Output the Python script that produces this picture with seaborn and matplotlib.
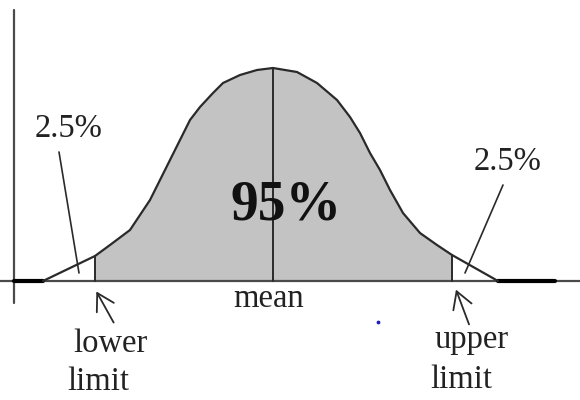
import numpy as np
import matplotlib
matplotlib.use("Agg")
import matplotlib.pyplot as plt
import seaborn as sns

# curve: x position, height above the baseline
curve_x = [43, 95, 110, 130, 150, 160, 170, 180, 190, 200, 213, 223, 240, 257,
           273, 297, 317, 337, 350, 360, 370, 380, 390, 403, 420, 437, 452, 498]
curve_h = [0, 25, 36, 51, 81, 101, 121, 141, 161, 174, 188, 198, 206, 211,
           213, 209, 198, 181, 164, 148, 128, 111, 91, 68, 48, 36, 26, 0]

lower_limit = 95
upper_limit = 452
mean_x = 273
tail_left = [14, 43]
tail_right = [498, 555]

sns.set_theme(style="white")
plt.rcParams["font.family"] = ["Liberation Serif", "DejaVu Serif"]

fig = plt.figure(figsize=(5.8, 4.0), dpi=100)
ax = fig.add_axes([0, 0, 1, 1])
ax.set_xlim(0, 580)
ax.set_ylim(-119, 281)
ax.axis("off")

cx = np.array(curve_x)
ch = np.array(curve_h)
inside = (cx >= lower_limit) & (cx <= upper_limit)
ax.fill_between(cx[inside], 0, ch[inside], color="#c3c3c3", lw=0, zorder=1)

# axes of the sketch
ax.axhline(0, color="#4a4a4a", lw=1.6, zorder=2)
ax.plot([14, 14], [-22, 271], color="#4a4a4a", lw=1.6, zorder=2)
ax.plot(tail_left, [0, 0], color="black", lw=3, zorder=3)
ax.plot(tail_right, [0, 0], color="black", lw=3, zorder=3)

sns.lineplot(x=curve_x, y=curve_h, sort=False, estimator=None, ax=ax,
             color="#2a2a2a", lw=1.6, zorder=4)

# limit and mean lines, each up to the curve
for xv in [lower_limit, upper_limit, mean_x]:
    ax.plot([xv, xv], [0, ch[cx == xv][0]], color="#2a2a2a", lw=1.4, zorder=4)

# leader lines to the tails
ax.plot([59, 79], [129, 8], color="#2a2a2a", lw=1.2, zorder=5)
ax.plot([503, 465], [96, 8], color="#2a2a2a", lw=1.2, zorder=5)

arrow = dict(arrowstyle="->,head_length=0.6,head_width=0.35", color="#2a2a2a",
             lw=1.3, mutation_scale=20)
ax.annotate("", xy=(95, -8), xytext=(115, -44), arrowprops=arrow)
ax.annotate("", xy=(455, -6), xytext=(470, -46), arrowprops=arrow)

txt = dict(fontsize=23.5, color="#222222", ha="center", va="baseline")
ax.text(69, 144, "2.5%", **txt)
ax.text(508, 111, "2.5%", **txt)
ax.text(269, -26, "mean", **txt)
ax.text(110, -71, "lower", **txt)
ax.text(98, -109, "limit", **txt)
ax.text(472, -67, "upper", **txt)
ax.text(461, -107, "limit", **txt)
ax.text(286, 61, "95%", fontsize=40, fontweight="bold", color="#111111",
        ha="center", va="baseline", zorder=6)

ax.scatter([378], [-41], s=3, color="#2020c0", zorder=6)

fig.savefig("out.png", dpi=100)
